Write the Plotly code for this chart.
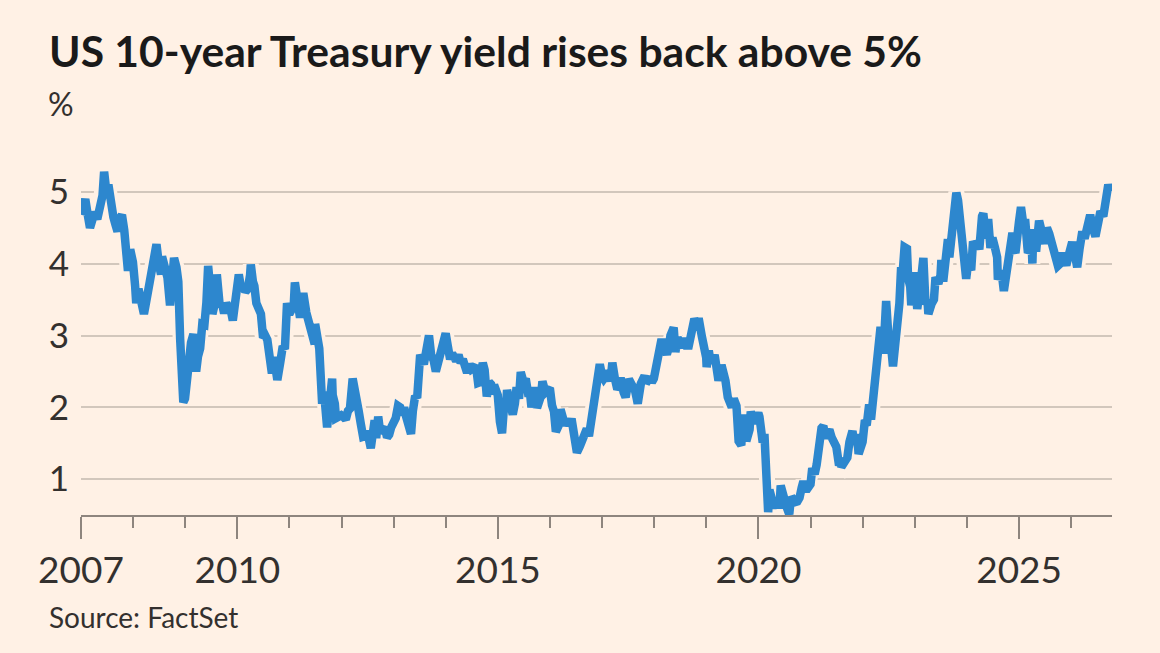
import plotly.graph_objects as go

# ---- data ----
dates = [
    "2007-01-02","2007-01-18","2007-01-31","2007-02-14","2007-03-05","2007-03-20","2007-04-05","2007-04-25",
    "2007-05-15","2007-06-01","2007-06-12","2007-06-27","2007-07-12","2007-07-31","2007-08-16","2007-08-31",
    "2007-09-14","2007-09-28","2007-10-15","2007-10-31","2007-11-13","2007-11-26","2007-12-12","2007-12-31",
    "2008-01-15","2008-01-23","2008-02-08","2008-02-29","2008-03-17","2008-03-31","2008-04-15","2008-04-30",
    "2008-05-15","2008-05-30","2008-06-13","2008-06-30","2008-07-15","2008-07-22","2008-08-15","2008-08-29",
    "2008-09-16","2008-09-30","2008-10-14","2008-10-31","2008-11-13","2008-11-26","2008-12-05","2008-12-18","2008-12-30",
    "2009-01-12","2009-01-30","2009-02-10","2009-02-27","2009-03-18","2009-03-31","2009-04-15","2009-04-30",
    "2009-05-15","2009-05-29","2009-06-10","2009-06-30","2009-07-10","2009-07-31","2009-08-10","2009-08-31",
    "2009-09-15","2009-09-30","2009-10-15","2009-10-30","2009-11-16","2009-11-30","2009-12-15","2009-12-31",
    "2010-01-11","2010-01-29","2010-02-10","2010-02-26","2010-03-15","2010-03-31","2010-04-05","2010-04-20",
    "2010-04-30","2010-05-14","2010-05-31","2010-06-15","2010-06-30","2010-07-15","2010-07-30","2010-08-13",
    "2010-08-24","2010-08-31","2010-09-15","2010-09-30","2010-10-08","2010-10-29","2010-11-15","2010-11-30",
    "2010-12-15","2010-12-31",
    "2011-01-14","2011-01-31","2011-02-08","2011-02-28","2011-03-16","2011-03-31","2011-04-08","2011-04-29",
    "2011-05-16","2011-05-31","2011-06-27","2011-06-30","2011-07-15","2011-07-29","2011-08-18","2011-08-31",
    "2011-09-22","2011-09-30","2011-10-27","2011-10-31","2011-11-15","2011-11-23","2011-12-15","2011-12-30",
    "2012-01-13","2012-01-31","2012-02-15","2012-02-29","2012-03-19","2012-03-30","2012-04-16","2012-04-30",
    "2012-05-15","2012-05-31","2012-06-15","2012-06-29","2012-07-24","2012-07-31","2012-08-20","2012-08-31",
    "2012-09-14","2012-09-28","2012-10-15","2012-10-31","2012-11-15","2012-11-30","2012-12-14","2012-12-31",
    "2013-01-15","2013-01-31","2013-02-15","2013-02-28","2013-03-15","2013-03-29","2013-04-15","2013-05-02",
    "2013-05-15","2013-05-31","2013-06-14","2013-06-25","2013-07-05","2013-07-31","2013-08-15","2013-08-30",
    "2013-09-05","2013-09-20","2013-10-08","2013-10-23","2013-11-15","2013-11-29","2013-12-16","2013-12-31",
    "2014-01-15","2014-01-31","2014-02-14","2014-02-28","2014-03-14","2014-03-31","2014-04-15","2014-04-30",
    "2014-05-15","2014-05-30","2014-06-13","2014-06-30","2014-07-15","2014-07-31","2014-08-15","2014-08-29",
    "2014-09-17","2014-09-30","2014-10-15","2014-10-31","2014-11-14","2014-11-28","2014-12-05","2014-12-31",
    "2015-01-15","2015-01-30","2015-02-13","2015-02-27","2015-03-06","2015-03-31","2015-04-15","2015-04-30",
    "2015-05-12","2015-05-29","2015-06-10","2015-06-30","2015-07-15","2015-07-31","2015-08-14","2015-08-24",
    "2015-09-15","2015-09-30","2015-10-02","2015-10-30","2015-11-09","2015-11-30","2015-12-15","2015-12-31",
    "2016-01-15","2016-01-29","2016-02-11","2016-02-29","2016-03-15","2016-03-31","2016-04-15","2016-04-29",
    "2016-05-16","2016-05-31","2016-06-15","2016-06-30","2016-07-08","2016-07-29","2016-08-15","2016-08-31",
    "2016-09-15","2016-09-30","2016-10-14","2016-10-31","2016-11-09","2016-11-30","2016-12-15","2016-12-30",
    "2017-01-13","2017-01-31","2017-02-15","2017-02-28","2017-03-13","2017-03-31","2017-04-17","2017-04-28",
    "2017-05-10","2017-05-31","2017-06-14","2017-06-30","2017-07-07","2017-07-31","2017-08-15","2017-08-31",
    "2017-09-07","2017-09-29","2017-10-25","2017-10-31","2017-11-15","2017-11-30","2017-12-15","2017-12-29",
    "2018-01-12","2018-01-31","2018-02-21","2018-02-28","2018-03-15","2018-03-30","2018-04-13","2018-04-24",
    "2018-05-17","2018-05-29","2018-06-13","2018-06-29","2018-07-13","2018-07-31","2018-08-15","2018-08-31",
    "2018-09-14","2018-09-28","2018-10-09","2018-10-31","2018-11-08","2018-11-30","2018-12-14","2018-12-31",
    "2019-01-03","2019-01-18","2019-01-31","2019-02-15","2019-02-28","2019-03-15","2019-03-27","2019-04-17",
    "2019-04-30","2019-05-15","2019-05-31","2019-06-14","2019-06-28","2019-07-12","2019-07-31","2019-08-15",
    "2019-08-30","2019-09-03","2019-09-13","2019-09-30","2019-10-08","2019-10-31","2019-11-08","2019-11-29",
    "2019-12-13","2019-12-31",
    "2020-01-08","2020-01-31","2020-02-12","2020-02-28","2020-03-09","2020-03-18","2020-03-31","2020-04-15",
    "2020-04-30","2020-05-15","2020-05-29","2020-06-05","2020-06-30","2020-07-15","2020-08-04","2020-08-14",
    "2020-08-31","2020-09-15","2020-09-30","2020-10-15","2020-10-30","2020-11-11","2020-11-30","2020-12-15","2020-12-31",
    "2021-01-12","2021-01-29","2021-02-12","2021-02-26","2021-03-18","2021-03-31","2021-04-15","2021-04-30",
    "2021-05-12","2021-05-28","2021-06-15","2021-06-30","2021-07-19","2021-07-30","2021-08-04","2021-08-31",
    "2021-09-15","2021-09-30","2021-10-21","2021-10-29","2021-11-15","2021-11-30","2021-12-03","2021-12-31",
    "2022-01-14","2022-01-31","2022-02-15","2022-02-28","2022-03-15","2022-03-31","2022-04-14","2022-04-29",
    "2022-05-06","2022-05-26","2022-06-14","2022-06-30","2022-07-15","2022-08-01","2022-08-15","2022-08-31",
    "2022-09-15","2022-09-27","2022-10-06","2022-10-21","2022-11-07","2022-11-15","2022-11-30","2022-12-07","2022-12-30",
    "2023-01-18","2023-01-31","2023-02-15","2023-03-02","2023-03-17","2023-03-31","2023-04-06","2023-04-28",
    "2023-05-15","2023-05-26","2023-06-15","2023-06-30","2023-07-06","2023-07-19","2023-08-04","2023-08-21",
    "2023-08-31","2023-09-15","2023-09-29","2023-10-06","2023-10-19","2023-10-31","2023-11-15","2023-11-30",
    "2023-12-15","2023-12-27",
    "2024-01-10","2024-01-31","2024-02-13","2024-02-29","2024-03-15","2024-03-28","2024-04-16","2024-04-25",
    "2024-05-15","2024-05-29","2024-06-14","2024-06-28","2024-07-15","2024-07-31","2024-08-05","2024-08-30",
    "2024-09-16","2024-09-30","2024-10-15","2024-10-31","2024-11-15","2024-11-29","2024-12-06","2024-12-31",
    "2025-01-14","2025-01-31","2025-02-12","2025-02-28","2025-03-04","2025-03-31","2025-04-04","2025-04-11",
    "2025-04-30","2025-05-21","2025-05-30","2025-06-13","2025-06-30","2025-07-15","2025-07-31","2025-08-15",
    "2025-08-29","2025-09-16","2025-09-30","2025-10-16","2025-10-31","2025-11-14","2025-11-28","2025-12-15","2025-12-31",
    "2026-01-08","2026-01-25","2026-02-12","2026-02-28","2026-03-20","2026-04-05","2026-04-25","2026-05-14",
    "2026-06-01","2026-06-20","2026-07-10","2026-07-25","2026-08-14","2026-08-30","2026-09-18","2026-09-30","2026-10-08",
]

yields = [
    4.68,4.78,4.90,4.72,4.50,4.60,4.72,4.62,
    4.75,4.95,5.28,5.02,5.10,4.77,4.65,4.54,
    4.45,4.62,4.68,4.47,4.25,3.90,4.20,4.02,
    3.70,3.45,3.65,3.51,3.30,3.45,3.62,3.75,
    3.85,4.06,4.27,3.99,3.85,4.10,3.85,3.81,
    3.42,3.85,4.08,3.95,3.75,2.95,2.55,2.07,2.12,
    2.40,2.84,2.90,3.02,2.50,2.71,2.82,3.16,
    3.15,3.46,3.97,3.53,3.30,3.48,3.85,3.40,
    3.45,3.31,3.45,3.39,3.35,3.21,3.55,3.84,
    3.85,3.63,3.70,3.61,3.65,3.84,3.99,3.75,
    3.69,3.45,3.31,3.30,2.97,3.00,2.94,2.70,
    2.50,2.47,2.70,2.52,2.38,2.63,2.85,2.81,
    3.45,3.30,
    3.35,3.42,3.74,3.42,3.25,3.47,3.59,3.32,
    3.15,3.05,2.88,3.16,2.95,2.82,2.05,2.22,
    1.72,1.92,2.40,2.17,2.05,1.85,1.90,1.89,
    1.87,1.83,1.95,1.98,2.40,2.23,1.98,1.95,
    1.77,1.59,1.60,1.67,1.43,1.51,1.82,1.57,
    1.87,1.65,1.70,1.72,1.58,1.62,1.72,1.78,
    1.85,2.02,2.00,1.89,2.00,1.87,1.70,1.63,
    1.95,2.16,2.13,2.60,2.73,2.60,2.77,2.78,
    3.00,2.73,2.65,2.50,2.72,2.75,2.88,3.03,
    2.85,2.67,2.75,2.66,2.65,2.73,2.62,2.67,
    2.50,2.48,2.60,2.53,2.55,2.58,2.34,2.35,
    2.62,2.52,2.15,2.35,2.32,2.18,2.31,2.17,
    1.80,1.64,2.02,2.00,2.24,1.94,1.90,2.05,
    2.28,2.12,2.49,2.35,2.40,2.20,2.20,2.00,
    2.28,2.06,1.99,2.16,2.36,2.21,2.27,2.27,
    2.03,1.94,1.66,1.74,1.97,1.78,1.75,1.83,
    1.75,1.84,1.61,1.49,1.37,1.46,1.56,1.58,
    1.70,1.60,1.80,1.84,2.07,2.37,2.60,2.45,
    2.40,2.45,2.50,2.36,2.62,2.40,2.25,2.29,
    2.41,2.21,2.14,2.31,2.39,2.30,2.27,2.12,
    2.05,2.33,2.44,2.38,2.37,2.42,2.35,2.40,
    2.55,2.72,2.95,2.87,2.82,2.74,2.83,3.00,
    3.11,2.77,2.97,2.85,2.83,2.96,2.86,2.86,
    2.99,3.05,3.23,3.15,3.24,2.99,2.89,2.69,
    2.56,2.79,2.63,2.66,2.73,2.59,2.37,2.59,
    2.51,2.37,2.14,2.09,2.00,2.12,2.02,1.53,
    1.50,1.47,1.90,1.68,1.53,1.69,1.94,1.78,
    1.82,1.92,
    1.87,1.51,1.63,1.13,0.54,0.85,0.70,0.64,
    0.64,0.64,0.65,0.91,0.66,0.62,0.51,0.71,
    0.72,0.68,0.69,0.74,0.88,0.97,0.84,0.92,0.93,
    1.15,1.07,1.20,1.44,1.71,1.74,1.57,1.65,
    1.69,1.58,1.50,1.45,1.19,1.24,1.17,1.30,
    1.30,1.52,1.67,1.55,1.62,1.43,1.35,1.52,
    1.78,1.79,2.04,1.83,2.15,2.32,2.83,2.89,
    3.12,2.75,3.48,2.98,2.93,2.57,2.79,3.19,
    3.45,3.95,3.83,4.23,4.21,3.80,3.68,3.42,3.88,
    3.37,3.52,3.80,4.08,3.43,3.48,3.30,3.44,
    3.50,3.81,3.72,3.84,4.05,3.75,4.04,4.34,
    4.09,4.33,4.59,4.80,4.99,4.88,4.53,4.37,
    3.91,3.79,
    4.02,3.91,4.31,4.25,4.30,4.20,4.66,4.70,
    4.35,4.62,4.22,4.36,4.23,4.09,3.78,3.91,
    3.62,3.81,4.03,4.28,4.43,4.18,4.15,4.58,
    4.79,4.54,4.62,4.23,4.15,4.23,4.00,4.48,
    4.17,4.60,4.41,4.41,4.28,4.50,4.42,4.32,
    4.25,4.05,3.97,4.00,4.15,4.05,3.98,4.12,4.22,
    4.30,4.15,3.95,4.20,4.45,4.35,4.52,4.68,
    4.50,4.38,4.58,4.73,4.66,4.80,5.10,5.03,5.08,
]

y_ticks = [1, 2, 3, 4, 5]
x_tick_dates = ["2007-01-01", "2010-01-01", "2015-01-01", "2020-01-01", "2025-01-01"]
x_tick_labels = ["2007", "2010", "2015", "2020", "2025"]

title_text = "US 10-year Treasury yield rises back above 5%"
unit_text = "%"
source_text = "Source: FactSet"

# ---- style ----
BG = "#FFF1E5"
LINE = "#2D87CE"
GRID = "#D2C7BC"
AXIS = "#8E857E"
TXT = "#33302E"
FONT = "Lato"

W, H = 1160, 653
L, R, T, B = 81, 48, 156, 138

fig = go.Figure()
# halo under the line (breaks gridlines near the line)
fig.add_trace(go.Scatter(x=dates, y=yields, mode="lines",
                         line=dict(color=BG, width=16), hoverinfo="skip", showlegend=False))
fig.add_trace(go.Scatter(x=dates, y=yields, mode="lines",
                         line=dict(color=LINE, width=8.5), showlegend=False))

fig.update_layout(
    width=W, height=H,
    margin=dict(l=L, r=R, t=T, b=B, autoexpand=False),
    paper_bgcolor=BG, plot_bgcolor=BG,
    showlegend=False,
    hovermode=False,
    font=dict(family=FONT, color=TXT),
)

fig.update_xaxes(
    type="date",
    range=["2007-01-01", "2026-10-14"],
    showgrid=False, zeroline=False,
    showline=True, linecolor=AXIS, linewidth=2,
    tickmode="array", tickvals=x_tick_dates, ticktext=x_tick_labels,
    ticks="outside", ticklen=22, tickwidth=2, tickcolor=AXIS,
    tickfont=dict(family=FONT, size=37, color=TXT),
    minor=dict(ticks="outside", ticklen=11, tickwidth=2, tickcolor=AXIS,
               dtick="M12", tick0="2007-01-01", showgrid=False),
)

fig.update_yaxes(
    range=[0.5, 5.5],
    tickmode="array", tickvals=y_ticks, ticktext=[str(v) for v in y_ticks],
    showgrid=True, gridcolor=GRID, gridwidth=2,
    zeroline=False, showline=False,
    ticks="outside", ticklen=4, tickcolor="rgba(0,0,0,0)",
    tickfont=dict(family=FONT, size=35, color=TXT),
)

fig.add_annotation(text="<b>" + title_text + "</b>", xref="paper", yref="paper",
                   x=(47 - L) / (W - L - R), y=1 + (T - 51) / (H - T - B),
                   xanchor="left", yanchor="middle", showarrow=False,
                   font=dict(family=FONT, size=42.6, color="#1A1A1A"))
fig.add_annotation(text=unit_text, xref="paper", yref="paper",
                   x=(46 - L) / (W - L - R), y=1 + (T - 103) / (H - T - B),
                   xanchor="left", yanchor="middle", showarrow=False,
                   font=dict(family=FONT, size=32, color=TXT))
fig.add_annotation(text=source_text, xref="paper", yref="paper",
                   x=(47 - L) / (W - L - R), y=-(617 - (H - B)) / (H - T - B),
                   xanchor="left", yanchor="middle", showarrow=False,
                   font=dict(family=FONT, size=28, color=TXT))

fig.write_html("out.html", config={"displayModeBar": False},
               post_script="document.body.style.margin='0';document.body.style.overflow='hidden';")
